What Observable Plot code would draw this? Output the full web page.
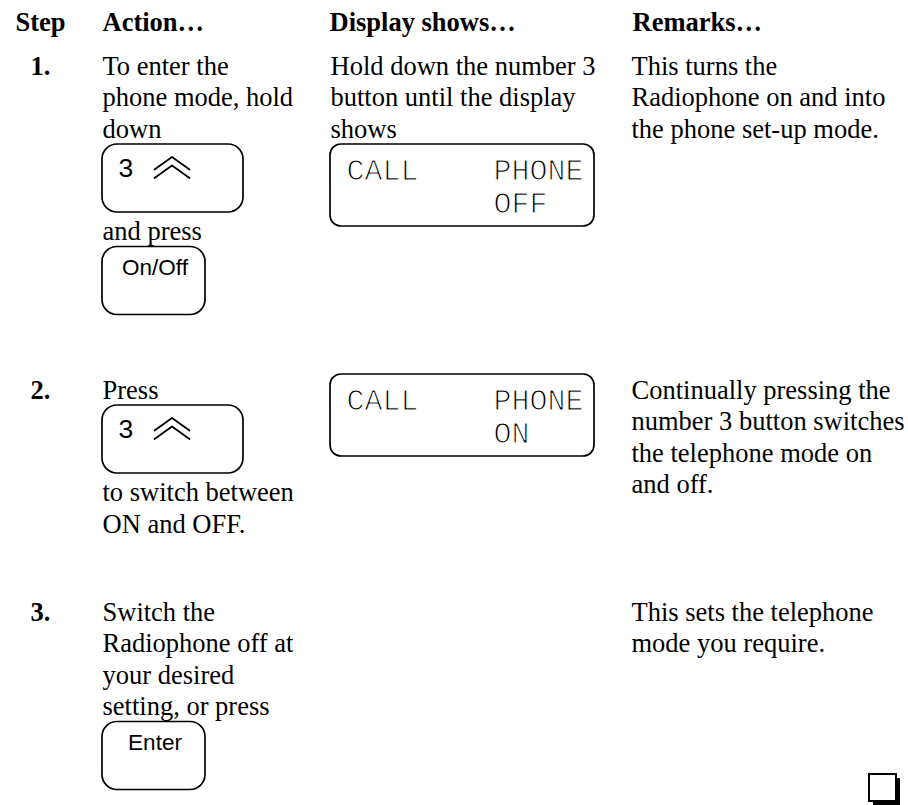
<!DOCTYPE html>
<html>
<head>
<meta charset="utf-8">
<script src="https://cdn.jsdelivr.net/npm/d3@7"></script>
<script src="https://cdn.jsdelivr.net/npm/@observablehq/plot@0.6"></script>
<style>
  html, body { margin: 0; padding: 0; background: #ffffff; }
  #chart svg { display: block; }
</style>
</head>
<body>
<div id="chart"></div>
<script>
// ---------------- content ----------------
const headers = ["Step", "Action…", "Display shows…", "Remarks…"];
const stepNumbers = ["1.", "2.", "3."];

const step1Action = ["To enter the", "phone mode, hold", "down", {key: "3"}, "and press", {key: "On/Off"}];
const step2Action = ["Press", {key: "3"}, "to switch between", "ON and OFF."];
const step3Action = ["Switch the", "Radiophone off at", "your desired", "setting, or press", {key: "Enter"}];

const step1Display = ["Hold down the number 3", "button until the display", "shows", {lcd: ["CALL", "PHONE", "OFF"]}];
const step2Display = [{lcd: ["CALL", "PHONE", "ON"]}];
const step3Display = [];

const step1Remarks = ["This turns the", "Radiophone on and into", "the phone set-up mode."];
const step2Remarks = ["Continually pressing the", "number 3 button switches", "the telephone mode on", "and off."];
const step3Remarks = ["This sets the telephone", "mode you require."];

const endMark = ["end"];

// ---------------- layout (positions & styles) ----------------
const W = 908, H = 805;
const L = {
  headerY: 30,
  headerX: [15, 102, 329, 632],
  stepX: 30,
  colX: [102, 330, 631],
  rowY: [74, 398, 620],
  lineH: 31.5,
  boxGapTop: 7,
  boxGapBottom: 27.5,
  firstBoxLift: 24,
  keyH: 68,
  keyWWide: 141,
  keyWNarrow: 103,
  lcdW: 264,
  lcdH: 82
};
const serif = "'Liberation Serif', 'Times New Roman', Times, serif";
const sans = "'Liberation Sans', Arial, Helvetica, sans-serif";
const mono = "'Liberation Mono', 'DejaVu Sans Mono', monospace";

const bodyText = [], keys = [], keyLabels = [], keyDigits = [], chevrons = [], lcds = [], lcdText = [];

function flow(items, x, y0) {
  let lastBaseline = null, lastBottom = null;
  for (const item of items) {
    if (typeof item === "string") {
      const y = lastBaseline != null ? lastBaseline + L.lineH
              : lastBottom != null ? lastBottom + L.boxGapBottom : y0;
      bodyText.push({x, y, text: item});
      lastBaseline = y; lastBottom = null;
    } else {
      const top = lastBaseline != null ? lastBaseline + L.boxGapTop
                : lastBottom != null ? lastBottom + L.boxGapTop : y0 - L.firstBoxLift;
      if (item.key) {
        const w = item.key === "3" ? L.keyWWide : L.keyWNarrow;
        keys.push({x1: x, x2: x + w, y1: top, y2: top + L.keyH});
        if (item.key === "3") {
          keyDigits.push({x: x + 16, y: top + 32.5, text: item.key});
          const id = keys.length;
          [[0, 12.5], [0, 21]].forEach(([dx, dy], k) => {
            chevrons.push({id: id + "-" + k, x: x + 52, y: top + dy + 12.5});
            chevrons.push({id: id + "-" + k, x: x + 69.5, y: top + dy});
            chevrons.push({id: id + "-" + k, x: x + 87, y: top + dy + 12.5});
          });
        } else {
          keyLabels.push({x: x + w / 2 + 1, y: top + 28, text: item.key});
        }
        lastBottom = top + L.keyH;
      } else if (item.lcd) {
        lcds.push({x1: x, x2: x + L.lcdW, y1: top, y2: top + L.lcdH});
        const [a, b, c] = item.lcd;
        lcdText.push({x: x + 16, y: top + 35, text: a});
        lcdText.push({x: x + 163, y: top + 35, text: b});
        lcdText.push({x: x + 163, y: top + 68, text: c});
        lastBottom = top + L.lcdH;
      }
      lastBaseline = null;
    }
  }
}

const actions = [step1Action, step2Action, step3Action];
const displays = [step1Display, step2Display, step3Display];
const remarks = [step1Remarks, step2Remarks, step3Remarks];
actions.forEach((items, i) => flow(items, L.colX[0], L.rowY[i]));
displays.forEach((items, i) => flow(items, L.colX[1], L.rowY[i]));
remarks.forEach((items, i) => flow(items, L.colX[2], L.rowY[i]));

const headerData = headers.map((text, i) => ({x: L.headerX[i], y: L.headerY, text}));
const stepData = stepNumbers.map((text, i) => ({x: L.stepX, y: L.rowY[i], text}));
const boxS = 27, shadow = 4;
const markShadow = endMark.map(() => ({x1: W - 39 + shadow, x2: W - 39 + boxS + shadow, y1: H - 31 + shadow, y2: H - 31 + boxS + shadow}));
const markBox = endMark.map(() => ({x1: W - 39, x2: W - 39 + boxS, y1: H - 31, y2: H - 31 + boxS}));

const plot = Plot.plot({
  width: W,
  height: H,
  margin: 0,
  x: {domain: [0, W], range: [0, W], axis: null},
  y: {domain: [0, H], range: [0, H], axis: null},
  style: {background: "#ffffff"},
  marks: [
    Plot.text(headerData, {x: "x", y: "y", text: "text", textAnchor: "start", lineAnchor: "bottom",
      fontFamily: serif, fontWeight: "bold", fontSize: 26.5, fill: "black"}),
    Plot.text(stepData, {x: "x", y: "y", text: "text", textAnchor: "start", lineAnchor: "bottom",
      fontFamily: serif, fontWeight: "bold", fontSize: 26.5, fill: "black"}),
    Plot.text(bodyText, {x: "x", y: "y", text: "text", textAnchor: "start", lineAnchor: "bottom",
      fontFamily: serif, fontSize: 26.5, fill: "black"}),
    Plot.rect(keys, {x1: "x1", x2: "x2", y1: "y1", y2: "y2", rx: 15, fill: "white", stroke: "black", strokeWidth: 1.7}),
    Plot.text(keyDigits, {x: "x", y: "y", text: "text", textAnchor: "start", lineAnchor: "bottom",
      fontFamily: sans, fontSize: 26.5, fill: "black"}),
    Plot.line(chevrons, {x: "x", y: "y", z: "id", stroke: "black", strokeWidth: 1.8, curve: "linear"}),
    Plot.text(keyLabels, {x: "x", y: "y", text: "text", textAnchor: "middle", lineAnchor: "bottom",
      fontFamily: sans, fontSize: 22.5, fill: "black"}),
    Plot.rect(lcds, {x1: "x1", x2: "x2", y1: "y1", y2: "y2", rx: 11, fill: "white", stroke: "black", strokeWidth: 1.7}),
    Plot.text(lcdText, {x: "x", y: "y", text: "text", textAnchor: "start", lineAnchor: "bottom",
      fontFamily: mono, fontSize: 30, fill: "black", stroke: "white", strokeWidth: 1.1, paintOrder: "fill"}),
    Plot.rect(markShadow, {x1: "x1", x2: "x2", y1: "y1", y2: "y2", fill: "black"}),
    Plot.rect(markBox, {x1: "x1", x2: "x2", y1: "y1", y2: "y2", fill: "white", stroke: "black", strokeWidth: 2})
  ]
});
document.getElementById("chart").appendChild(plot);
</script>
</body>
</html>
